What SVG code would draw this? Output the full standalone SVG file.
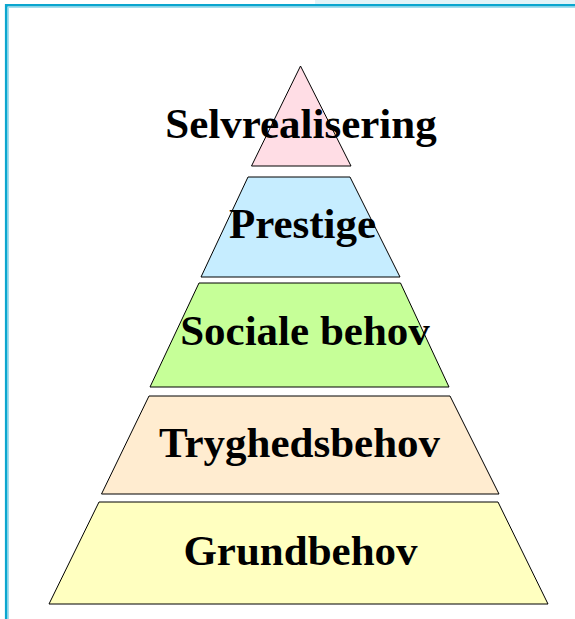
<svg xmlns="http://www.w3.org/2000/svg" width="575" height="619" viewBox="0 0 575 619">
  <style>
    .level { stroke: #000; stroke-width: 1; stroke-linejoin: miter; }
    .label { font-family: "Liberation Serif", "Times New Roman", serif; font-weight: bold; font-size: 43px; fill: #000; text-anchor: middle; }
  </style>
  <rect x="0" y="0" width="575" height="619" fill="#fff"/>
  <!-- frame -->
  <rect x="315" y="0" width="260" height="4" fill="#e2f4f8"/>
  <path d="M6.2 619 V5.2 H575" fill="none" stroke="#0aa6cf" stroke-width="2.6"/>
  <path d="M8.3 619 V7.3 H575" fill="none" stroke="#8fd6ea" stroke-width="1"/>

  <g id="grundbehov">
    <polygon class="level" points="99,502 498,502 548,604 49,604" fill="#ffffc0"/>
    <text class="label" x="300.5" y="565">Grundbehov</text>
  </g>
  <g id="tryghedsbehov">
    <polygon class="level" points="149,396 450,396 499,494 101.5,494" fill="#ffecd0"/>
    <text class="label" x="299.5" y="457">Tryghedsbehov</text>
  </g>
  <g id="sociale-behov">
    <polygon class="level" points="199,283 400.5,283 449,387 150,387" fill="#c6ff98"/>
    <text class="label" x="305" y="345">Sociale behov</text>
  </g>
  <g id="prestige">
    <polygon class="level" points="248,177 350,177 400,277 201,277" fill="#c6edff"/>
    <text class="label" x="302.5" y="238">Prestige</text>
  </g>
  <g id="selvrealisering">
    <polygon class="level" points="300.5,66 351,166 251.5,166" fill="#ffdde5"/>
    <text class="label" x="301" y="138">Selvrealisering</text>
  </g>
  <g id="connectors"/>
</svg>
